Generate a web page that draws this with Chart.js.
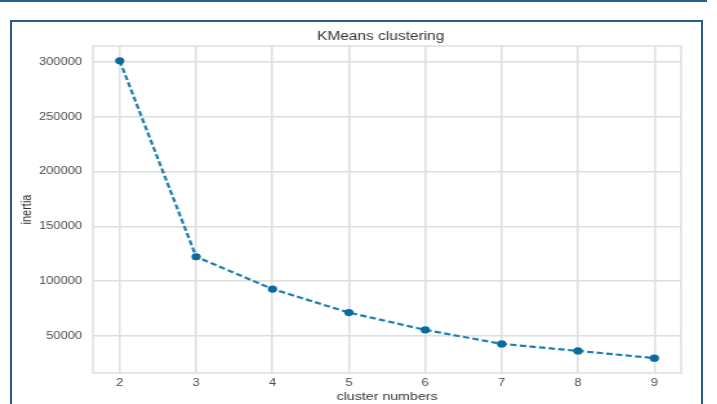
<!DOCTYPE html>
<html>
<head>
<meta charset="utf-8">
<script src="https://cdn.jsdelivr.net/npm/chart.js@4.4.1/dist/chart.umd.min.js"></script>
<style>
    html, body { margin: 0; padding: 0; background: #fff; }
    body { width: 717px; height: 404px; position: relative; overflow: hidden; }
    /* blue frame around the screenshot */
    .frame-top { position: absolute; left: 0; top: 0; width: 707px; height: 2px; background: #2c5d8f; }
    .frame-box { position: absolute; left: 10px; top: 20px; width: 689px; height: 400px;
                 border: 2px solid #2b5b8d; }
    /* source figure was stretched horizontally, so draw narrow and scale */
    .chart-wrap { position: absolute; left: 0; top: 0; width: 556px; height: 404px;
                  transform: scaleX(1.29); transform-origin: 0 0; }
</style>
</head>
<body>
<div class="frame-top"></div>
<div class="frame-box"></div>
<div class="chart-wrap"><canvas id="elbow-chart"></canvas></div>

<script>
// Data
const clusterNumbers = [2, 3, 4, 5, 6, 7, 8, 9];
const inertiaValues = [301200, 122300, 92800, 71300, 55500, 42700, 36300, 29700];
const yTickValues = [50000, 100000, 150000, 200000, 250000, 300000];
const xTickValues = [2, 3, 4, 5, 6, 7, 8, 9];

const LINE_COLOR = '#1b7fb0';
const MARKER_COLOR = '#0b6a9c';
const GRID_COLOR = '#dedede';
const FONT_FAMILY = '"Liberation Sans", Arial, Helvetica, sans-serif';

// matplotlib-like 5% margins around the data
const xSpan = Math.max(...clusterNumbers) - Math.min(...clusterNumbers);
const ySpan = Math.max(...inertiaValues) - Math.min(...inertiaValues);
const xMin = Math.min(...clusterNumbers) - xSpan * 0.05;
const xMax = Math.max(...clusterNumbers) + xSpan * 0.05;
const yMin = Math.min(...inertiaValues) - ySpan * 0.05;
const yMax = Math.max(...inertiaValues) + ySpan * 0.05;

// frame around plot area + centered title
const plotFramePlugin = {
    id: 'plotFrame',
    beforeDatasetsDraw(chart) {
        const { ctx, chartArea } = chart;
        ctx.save();
        ctx.strokeStyle = GRID_COLOR;
        ctx.lineWidth = 1.5;
        ctx.strokeRect(chartArea.left, chartArea.top,
            chartArea.right - chartArea.left, chartArea.bottom - chartArea.top);
        ctx.restore();
    },
    afterDraw(chart) {
        const { ctx, chartArea } = chart;
        ctx.save();
        ctx.fillStyle = '#333';
        ctx.font = '12px ' + FONT_FAMILY;
        ctx.textAlign = 'center';
        ctx.textBaseline = 'middle';
        ctx.fillText('KMeans clustering', (chartArea.left + chartArea.right) / 2 - 5, chartArea.top - 9);
        ctx.restore();
    }
};

const ctx = document.getElementById('elbow-chart').getContext('2d');

new Chart(ctx, {
    type: 'line',
    data: {
        datasets: [{
            label: 'inertia',
            data: clusterNumbers.map((k, i) => ({ x: k, y: inertiaValues[i] })),
            borderColor: LINE_COLOR,
            borderWidth: 2.2,
            borderDash: [5, 2.5],
            pointBackgroundColor: MARKER_COLOR,
            pointBorderColor: MARKER_COLOR,
            pointRadius: 3.6,
            pointBorderWidth: 0,
            tension: 0,
            fill: false
        }]
    },
    options: {
        responsive: true,
        maintainAspectRatio: false,
        animation: false,
        layout: {
            padding: { left: 0, top: 46, right: 28, bottom: 0 }
        },
        plugins: {
            legend: { display: false },
            tooltip: { enabled: false },
            title: { display: false }
        },
        scales: {
            x: {
                type: 'linear',
                min: xMin,
                max: xMax,
                afterFit(scale) { scale.height = 31; },
                afterBuildTicks(scale) { scale.ticks = xTickValues.map(v => ({ value: v })); },
                grid: { color: GRID_COLOR, lineWidth: 1.5, drawTicks: false },
                border: { display: false },
                ticks: {
                    padding: 4,
                    color: '#4a4a4a',
                    font: { size: 10, family: FONT_FAMILY },
                    maxRotation: 0
                },
                title: {
                    display: true,
                    text: 'cluster numbers',
                    color: '#333',
                    font: { size: 11, family: FONT_FAMILY },
                    padding: { top: 0, bottom: 0 }
                }
            },
            y: {
                type: 'linear',
                min: yMin,
                max: yMax,
                afterFit(scale) { scale.width = 72.1; },
                afterBuildTicks(scale) { scale.ticks = yTickValues.map(v => ({ value: v })); },
                grid: { color: GRID_COLOR, lineWidth: 1.5, drawTicks: false },
                border: { display: false },
                ticks: {
                    padding: 8.5,
                    color: '#4a4a4a',
                    font: { size: 10, family: FONT_FAMILY },
                    callback: v => String(v)
                },
                title: {
                    display: true,
                    text: 'inertia',
                    color: '#333',
                    font: { size: 11, family: FONT_FAMILY },
                    padding: { top: 14, bottom: 0 }
                }
            }
        }
    },
    plugins: [plotFramePlugin]
});
</script>
</body>
</html>
